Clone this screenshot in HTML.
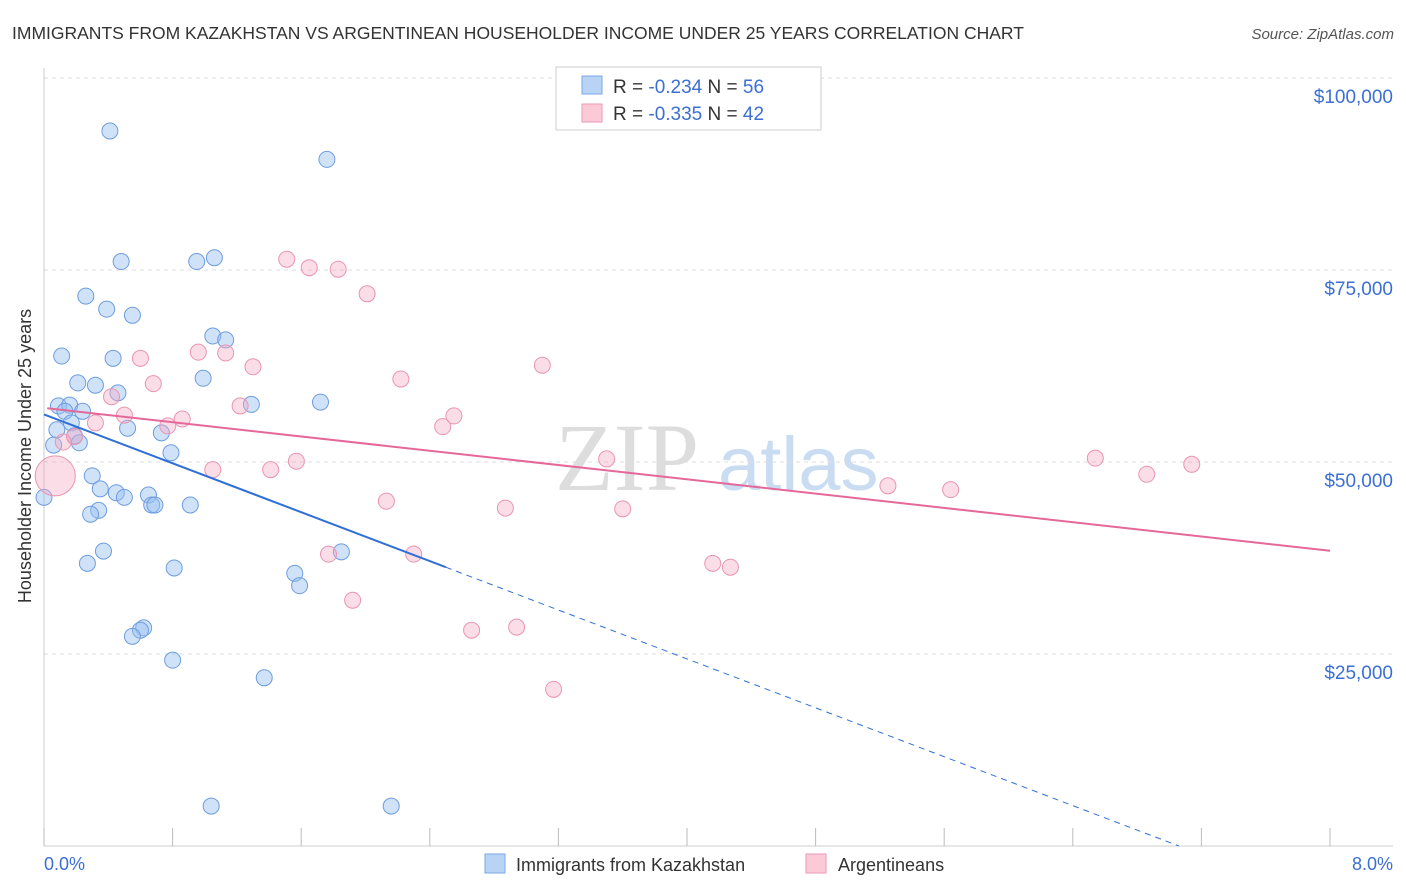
<!DOCTYPE html>
<html><head><meta charset="utf-8"><style>
body{margin:0;background:#fff;font-family:"Liberation Sans",sans-serif;}
#wrap{position:relative;width:1406px;height:892px;overflow:hidden;}
</style></head><body>
<div id="wrap">
<svg id="svg" width="1406" height="892" xmlns="http://www.w3.org/2000/svg">
<text x="12" y="39" font-size="17.5" fill="#333">IMMIGRANTS FROM KAZAKHSTAN VS ARGENTINEAN HOUSEHOLDER INCOME UNDER 25 YEARS CORRELATION CHART</text>
<text x="1394" y="39" font-size="15" fill="#555" font-style="italic" text-anchor="end">Source: ZipAtlas.com</text>
<text x="555" y="490" font-size="96" fill="#ddd" font-family="Liberation Serif">ZIP</text>
<text x="718" y="490" font-size="76" fill="#c9dcf2">atlas</text>
<g id="grid"></g><g id="axes"></g><g id="marks"></g>
<text x="31" y="456" font-size="18" fill="#333" text-anchor="middle" transform="rotate(-90 31 456)">Householder Income Under 25 years</text>
<text x="44" y="870" font-size="18" fill="#3b6fd4">0.0%</text>
<text x="1393" y="870" font-size="18" fill="#3b6fd4" text-anchor="end">8.0%</text>
<g>
<rect x="556" y="67" width="265" height="63" fill="#fff" stroke="#ccc"/>
<rect x="582" y="76" width="20" height="18" fill="#b8d3f4" stroke="#7aa8e8"/>
<rect x="582" y="104" width="20" height="18" fill="#fbc9d8" stroke="#eb9ab5"/>
<text x="613" y="93" font-size="19" fill="#333">R = <tspan fill="#3b6fd4">-0.234</tspan>    N = <tspan fill="#3b6fd4">56</tspan></text>
<text x="613" y="120" font-size="19" fill="#333">R = <tspan fill="#3b6fd4">-0.335</tspan>    N = <tspan fill="#3b6fd4">42</tspan></text>
</g>
<g>
<rect x="485" y="854" width="20" height="19" fill="#b8d3f4" stroke="#7aa8e8"/>
<text x="516" y="871" font-size="18" fill="#333">Immigrants from Kazakhstan</text>
<rect x="806" y="854" width="20" height="19" fill="#fbc9d8" stroke="#eb9ab5"/>
<text x="838" y="871" font-size="18" fill="#333">Argentineans</text>
</g>
</svg>
</div>
<script>
const yTicks=[25000,50000,75000,100000];
const yTickLabels=["$25,000","$50,000","$75,000","$100,000"];
const xTicks=[0,0.8,1.6,2.4,3.2,4.0,4.8,5.6,6.4,7.2,8.0];
const blueX=[0.41,1.76,0.48,0.95,1.06,0.26,0.39,0.55,1.05,1.13,0.11,0.43,0.99,0.21,0.32,0.46,1.29,1.72,0.09,0.16,0.13,0.24,0.17,0.52,0.73,0.08,0.19,0.06,0.22,0.79,0.30,0.35,0.45,0.50,0.65,0.67,0.69,0.91,0.34,0.29,0.00,0.37,0.27,0.81,1.85,1.56,1.59,0.62,0.60,0.55,0.80,1.37,1.04,2.16];
const blueY=[93.1,89.4,76.1,76.1,76.6,71.6,69.9,69.1,66.4,65.9,63.8,63.5,60.9,60.3,60.0,59.0,57.5,57.8,57.3,57.4,56.6,56.6,55.1,54.4,53.8,54.2,53.4,52.2,52.5,51.2,48.2,46.5,46.0,45.4,45.7,44.4,44.4,44.4,43.7,43.2,45.4,38.4,36.8,36.2,38.3,35.5,33.9,28.4,28.1,27.3,24.2,21.9,5.2,5.2];
const pinkX=[1.51,1.65,1.83,2.01,0.60,0.96,1.13,1.30,2.22,3.10,0.68,0.42,0.50,0.86,1.22,0.77,2.55,2.48,0.32,0.19,0.12,0.07,1.05,1.41,1.57,3.50,6.54,6.86,7.14,5.25,5.64,2.13,2.87,3.60,1.77,2.30,4.16,4.27,1.92,2.66,2.94,3.17];
const pinkY=[76.4,75.3,75.1,71.9,63.5,64.3,64.2,62.4,60.8,62.6,60.2,58.5,56.1,55.6,57.3,54.7,56.0,54.6,55.1,53.3,52.6,48.2,49.0,49.0,50.1,50.4,50.5,48.4,49.7,46.9,46.4,44.9,44.0,43.9,38.0,38.0,36.8,36.3,32.0,28.1,28.5,20.4];
const pinkR=[8,8,8,8,8,8,8,8,8,8,8,8,8,8,8,8,8,8,8,8,8,20,8,8,8,8,8,8,8,8,8,8,8,8,8,8,8,8,8,8,8,8];
const blueTrend=[56.2,-7.96]; const pinkTrend=[57.0,-2.32];
const NS="http://www.w3.org/2000/svg";
const X=v=>44+v/8*1286, Y=v=>846-v/25000*192, Yk=v=>Y(v*1000);
function mk(t,a,p){const e=document.createElementNS(NS,t);for(const k in a)e.setAttribute(k,a[k]);p.appendChild(e);return e;}
const grid=document.getElementById('grid'),axes=document.getElementById('axes'),marks=document.getElementById('marks');
yTicks.forEach((v,i)=>{
 const l=mk('line',{x1:44,x2:1393,y1:Y(v),y2:Y(v),stroke:'#ddd','stroke-dasharray':'4,4'},grid);
 
 
 const t=mk('text',{x:1393,y:Y(v)+25,'font-size':19,fill:'#3b6fd4','text-anchor':'end'},grid);
 t.textContent=yTickLabels[i];
 
 
});
const ax=mk('line',{x1:44,x2:1393,y1:846,y2:846,stroke:'#ccc'},axes);


const ay=mk('line',{x1:44,x2:44,y1:68,y2:846,stroke:'#ccc'},axes);


xTicks.forEach(v=>{
 const t=mk('line',{x1:X(v),x2:X(v),y1:828,y2:846,stroke:'#bbb'},axes);
 
 
});
blueX.forEach((x,i)=>{
 const c=mk('circle',{cx:X(x),cy:Yk(blueY[i]),r:8,fill:'rgba(150,190,240,0.45)',stroke:'#6d9de0','stroke-width':1},marks);
 
 
});
pinkX.forEach((x,i)=>{
 const c=mk('circle',{cx:X(x),cy:Yk(pinkY[i]),r:pinkR[i],fill:'rgba(245,170,195,0.4)',stroke:'#e995b2','stroke-width':1},marks);
 
 
});
const bEnd=2.5, bZero=-blueTrend[0]/blueTrend[1];
const b1=mk('line',{x1:X(0),y1:Yk(blueTrend[0]),x2:X(bEnd),y2:Yk(blueTrend[0]+blueTrend[1]*bEnd),stroke:'#2f6fd6','stroke-width':2},marks);


const b2=mk('line',{x1:X(bEnd),y1:Yk(blueTrend[0]+blueTrend[1]*bEnd),x2:X(bZero),y2:Yk(0),stroke:'#2f6fd6','stroke-width':1,'stroke-dasharray':'6,5'},marks);


const p1=mk('line',{x1:X(0.02),y1:Yk(pinkTrend[0]),x2:X(8),y2:Yk(pinkTrend[0]+pinkTrend[1]*8),stroke:'#e4689a','stroke-width':2},marks);


</script>
</body></html>
